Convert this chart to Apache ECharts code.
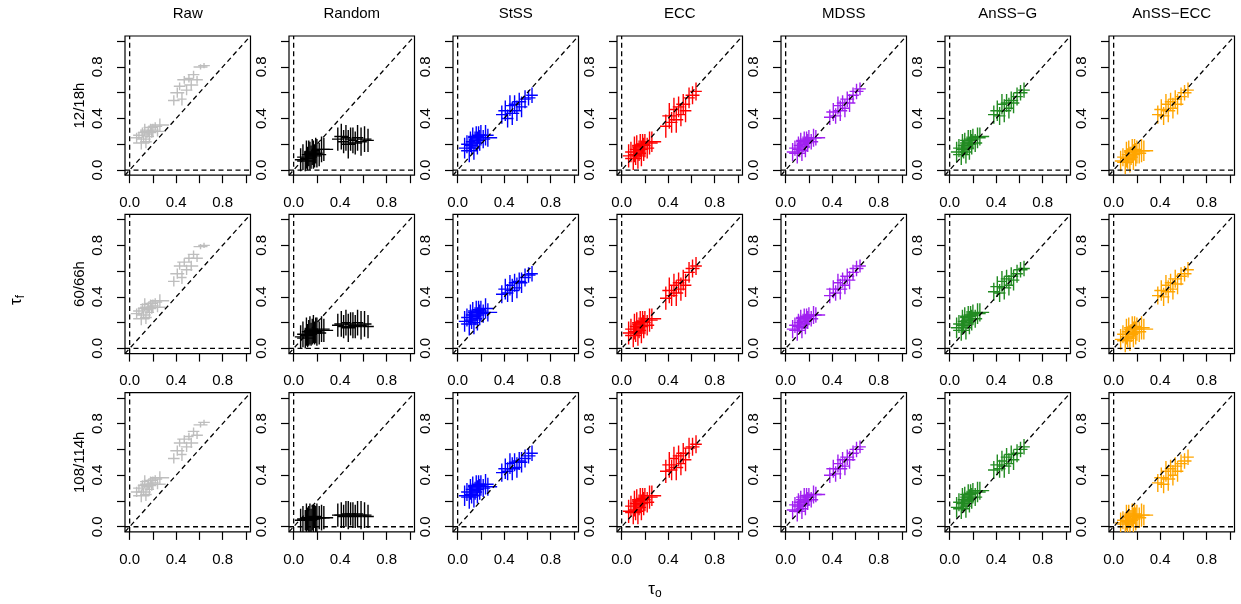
<!DOCTYPE html>
<html><head><meta charset="utf-8">
<script src="https://cdn.jsdelivr.net/npm/echarts@6/dist/echarts.min.js"></script>
<style>html,body{margin:0;padding:0;background:#fff}#c{width:1241px;height:604px}</style>
</head><body><div id="c"></div>
<script>
// ---------- data ----------
const methods = ['Raw','Random','StSS','ECC','MDSS','AnSS\u2212G','AnSS\u2212ECC'];
const leadTimes = ['12/18h','60/66h','108/114h'];
const tickValues = [0,0.2,0.4,0.6,0.8,1.0];
const labelValues = [0,0.4,0.8];

// observed tau (x centre and half-width), shared by all panels
const xc = [0.06,0.08,0.10,0.11,0.12,0.13,0.14,0.15,0.16,0.17,0.18,0.19,0.20,0.22,0.24,0.26, 0.38,0.41,0.43,0.45,0.47,0.49,0.51,0.53,0.55,0.58,0.61,0.64];
const xh = [0.05,0.05,0.07,0.04,0.06,0.04,0.05,0.05,0.07,0.04,0.06,0.04,0.05,0.06,0.07,0.08, 0.05,0.06,0.05,0.04,0.06,0.05,0.04,0.06,0.05,0.05,0.06,0.05];

// forecast tau centres per method and lead time, and half-widths per method
const rawY1 = [0.25,0.27,0.21,0.29,0.24,0.31,0.22,0.28,0.30,0.26,0.33,0.29,0.31,0.34,0.30,0.35, 0.54,0.60,0.65,0.55,0.70,0.62,0.71,0.66,0.74,0.70,0.80,0.81];
const rawY2 = [0.27,0.29,0.23,0.31,0.26,0.34,0.24,0.30,0.32,0.28,0.35,0.31,0.33,0.36,0.32,0.37, 0.52,0.58,0.64,0.55,0.67,0.61,0.70,0.64,0.73,0.70,0.79,0.80];
const rawY3 = [0.27,0.30,0.24,0.32,0.27,0.35,0.25,0.31,0.33,0.29,0.36,0.32,0.34,0.37,0.33,0.38, 0.53,0.59,0.65,0.56,0.68,0.62,0.70,0.65,0.74,0.71,0.79,0.81];
const rawH  = [0.04,0.03,0.05,0.04,0.03,0.05,0.05,0.03,0.04,0.05,0.03,0.04,0.05,0.03,0.04,0.05, 0.04,0.04,0.03,0.05,0.03,0.04,0.03,0.04,0.03,0.03,0.02,0.02];

const rndY1 = [0.08,0.10,0.07,0.12,0.09,0.13,0.11,0.10,0.14,0.12,0.11,0.15,0.13,0.12,0.16,0.16, 0.24,0.26,0.22,0.25,0.20,0.24,0.23,0.21,0.25,0.22,0.24,0.23];
const rndY2 = [0.09,0.11,0.08,0.13,0.10,0.12,0.14,0.11,0.13,0.15,0.12,0.14,0.13,0.12,0.15,0.14, 0.18,0.19,0.17,0.20,0.16,0.19,0.18,0.17,0.20,0.18,0.19,0.17];
const rndY3 = [0.05,0.06,0.05,0.07,0.06,0.06,0.07,0.05,0.07,0.06,0.08,0.06,0.07,0.07,0.07,0.07, 0.09,0.09,0.08,0.10,0.09,0.10,0.09,0.08,0.10,0.09,0.09,0.08];
const rndH  = [0.09,0.10,0.08,0.11,0.09,0.10,0.11,0.09,0.10,0.11,0.09,0.10,0.11,0.09,0.10,0.09, 0.09,0.10,0.09,0.10,0.11,0.09,0.10,0.09,0.10,0.11,0.10,0.09];

const stY1 = [0.17,0.20,0.15,0.22,0.19,0.25,0.17,0.23,0.26,0.21,0.27,0.23,0.27,0.24,0.27,0.25, 0.43,0.46,0.40,0.50,0.44,0.51,0.46,0.53,0.49,0.55,0.56,0.58];
const stY2 = [0.21,0.24,0.19,0.26,0.22,0.28,0.20,0.25,0.29,0.23,0.30,0.26,0.29,0.27,0.31,0.28, 0.42,0.46,0.43,0.49,0.45,0.51,0.47,0.52,0.51,0.55,0.57,0.58];
const stY3 = [0.24,0.27,0.23,0.29,0.25,0.31,0.24,0.28,0.32,0.27,0.33,0.29,0.32,0.30,0.33,0.31, 0.42,0.45,0.43,0.49,0.45,0.50,0.46,0.51,0.50,0.53,0.55,0.57];
const stH  = [0.08,0.07,0.09,0.08,0.07,0.08,0.09,0.07,0.08,0.09,0.07,0.08,0.08,0.07,0.08,0.07, 0.07,0.08,0.07,0.08,0.09,0.07,0.08,0.07,0.08,0.07,0.06,0.06];

const ecY1 = [0.11,0.14,0.09,0.16,0.12,0.18,0.11,0.15,0.19,0.13,0.20,0.16,0.19,0.17,0.21,0.22, 0.34,0.42,0.37,0.47,0.39,0.49,0.43,0.51,0.46,0.56,0.58,0.61];
const ecY2 = [0.12,0.15,0.10,0.17,0.13,0.19,0.12,0.16,0.20,0.14,0.21,0.17,0.20,0.18,0.22,0.23, 0.39,0.45,0.41,0.49,0.43,0.51,0.46,0.53,0.49,0.59,0.62,0.64];
const ecY3 = [0.12,0.16,0.11,0.18,0.13,0.20,0.12,0.17,0.21,0.15,0.22,0.18,0.21,0.19,0.23,0.24, 0.43,0.48,0.44,0.53,0.46,0.55,0.49,0.57,0.52,0.61,0.62,0.64];
const ecH  = [0.09,0.08,0.09,0.10,0.08,0.09,0.10,0.08,0.09,0.10,0.08,0.09,0.09,0.08,0.09,0.08, 0.09,0.10,0.08,0.09,0.10,0.08,0.09,0.08,0.09,0.08,0.07,0.07];

const mdY1 = [0.14,0.17,0.13,0.19,0.16,0.22,0.15,0.20,0.23,0.18,0.24,0.21,0.24,0.22,0.25,0.25, 0.41,0.45,0.42,0.50,0.46,0.52,0.48,0.55,0.52,0.58,0.61,0.63];
const mdY2 = [0.15,0.18,0.14,0.20,0.17,0.23,0.16,0.21,0.24,0.19,0.25,0.22,0.25,0.23,0.26,0.26, 0.41,0.46,0.43,0.51,0.46,0.53,0.49,0.56,0.53,0.59,0.62,0.64];
const mdY3 = [0.13,0.17,0.12,0.19,0.16,0.21,0.14,0.19,0.23,0.17,0.24,0.20,0.23,0.21,0.25,0.25, 0.40,0.45,0.41,0.49,0.45,0.52,0.47,0.54,0.52,0.57,0.60,0.62];
const mdH  = [0.07,0.06,0.08,0.07,0.06,0.07,0.08,0.06,0.07,0.08,0.06,0.07,0.07,0.06,0.07,0.06, 0.06,0.07,0.06,0.07,0.08,0.06,0.07,0.06,0.07,0.06,0.06,0.05];

const agY1 = [0.14,0.17,0.12,0.19,0.16,0.21,0.14,0.19,0.23,0.17,0.24,0.20,0.24,0.21,0.25,0.26, 0.43,0.46,0.42,0.51,0.46,0.52,0.48,0.54,0.52,0.57,0.60,0.62];
const agY2 = [0.16,0.19,0.14,0.21,0.18,0.24,0.16,0.22,0.25,0.20,0.26,0.22,0.26,0.23,0.27,0.28, 0.44,0.48,0.43,0.52,0.47,0.54,0.49,0.56,0.53,0.58,0.61,0.62];
const agY3 = [0.15,0.19,0.14,0.21,0.18,0.23,0.16,0.21,0.25,0.20,0.26,0.22,0.26,0.23,0.27,0.28, 0.44,0.48,0.45,0.51,0.47,0.54,0.49,0.56,0.52,0.57,0.60,0.62];
const agH  = [0.08,0.07,0.08,0.09,0.07,0.08,0.09,0.07,0.08,0.09,0.07,0.08,0.08,0.07,0.08,0.07, 0.07,0.08,0.07,0.08,0.09,0.07,0.08,0.07,0.08,0.07,0.06,0.06];

const aeY1 = [0.07,0.10,0.06,0.12,0.09,0.14,0.08,0.11,0.15,0.10,0.16,0.12,0.14,0.13,0.15,0.15, 0.43,0.47,0.42,0.51,0.46,0.53,0.48,0.55,0.51,0.57,0.60,0.62];
const aeY2 = [0.07,0.11,0.06,0.13,0.09,0.15,0.08,0.12,0.16,0.11,0.17,0.12,0.15,0.13,0.16,0.15, 0.41,0.45,0.40,0.49,0.44,0.51,0.46,0.54,0.50,0.56,0.58,0.61];
const aeY3 = [0.03,0.05,0.02,0.07,0.04,0.08,0.03,0.06,0.09,0.05,0.10,0.06,0.08,0.07,0.09,0.09, 0.34,0.38,0.33,0.43,0.37,0.45,0.40,0.47,0.43,0.49,0.51,0.54];
const aeH  = [0.08,0.07,0.09,0.10,0.08,0.09,0.10,0.07,0.09,0.10,0.08,0.09,0.09,0.08,0.09,0.08, 0.07,0.08,0.07,0.08,0.09,0.07,0.08,0.07,0.08,0.07,0.06,0.06];

// ---------- assembly ----------
const colors = ['#BEBEBE','#000000','#0000FF','#FF0000','#A020F0','#228B22','#FFA500'];
const yCentres = [[rawY1,rawY2,rawY3],[rndY1,rndY2,rndY3],[stY1,stY2,stY3],[ecY1,ecY2,ecY3],[mdY1,mdY2,mdY3],[agY1,agY2,agY3],[aeY1,aeY2,aeY3]];
const yHalf = [rawH,rndH,stH,ecH,mdH,agH,aeH];

const colLeft = [125,289,453,617,781,945,1109];
const rowTop = [36,214.4,392.7];
const W = 125.5, H = 139.2;
const FONT = 'Liberation Sans, Arial, Helvetica, sans-serif';
const AMIN = -0.04, AMAX = 1.04;

const grids=[], xAxes=[], yAxes=[], series=[], graphics=[];
for (let r=0;r<3;r++){
  for (let c=0;c<7;c++){
    const gi = grids.length;
    grids.push({left:colLeft[c], top:rowTop[r], width:W, height:H, show:true, borderColor:'#000', borderWidth:1.2, backgroundColor:'transparent', containLabel:false});
    const axisCommon = {
      min:AMIN, max:AMAX, gridIndex:gi, type:'value',
      axisLine:{show:false, onZero:false},
      splitLine:{show:false},
      axisTick:{show:true, inside:false, length:8, customValues:tickValues, lineStyle:{color:'#000', width:1.2}},
    };
    xAxes.push(Object.assign({}, axisCommon, {
      axisLabel:{show:true, customValues:labelValues, margin:20, color:'#000', fontSize:15, fontFamily:FONT, formatter:v=>v.toFixed(1)}
    }));
    yAxes.push(Object.assign({}, axisCommon, {
      axisLabel:{show:true, customValues:labelValues, rotate:90, margin:20, color:'#000', fontSize:15, fontFamily:FONT, formatter:v=>v.toFixed(1)}
    }));
    const yc = yCentres[c][r], yh = yHalf[c];
    const data = xc.map((x,i)=>[x, x-xh[i], x+xh[i], yc[i], yc[i]-yh[i], yc[i]+yh[i]]);
    const col = colors[c];
    series.push({
      type:'custom', xAxisIndex:gi, yAxisIndex:gi, clip:true, silent:true, z:2,
      data:data,
      renderItem:function(params, api){
        const a=api.coord([api.value(1),api.value(3)]), b=api.coord([api.value(2),api.value(3)]);
        const d=api.coord([api.value(0),api.value(4)]), e=api.coord([api.value(0),api.value(5)]);
        return {type:'group', children:[
          {type:'line', shape:{x1:a[0],y1:a[1],x2:b[0],y2:b[1]}, style:{stroke:col, lineWidth:1.4}},
          {type:'line', shape:{x1:d[0],y1:d[1],x2:e[0],y2:e[1]}, style:{stroke:col, lineWidth:1.4}}
        ]};
      }
    });
    const dash = {color:'#000', width:1.3, type:[5,3.5]};
    [[[AMIN,AMIN],[AMAX,AMAX]],[[0,AMIN],[0,AMAX]],[[AMIN,0],[AMAX,0]]].forEach(seg=>{
      series.push({type:'line', xAxisIndex:gi, yAxisIndex:gi, data:seg, symbol:'none', silent:true, z:3, lineStyle:dash, animation:false});
    });
  }
}
// column titles
methods.forEach((m,c)=>{
  graphics.push({type:'text', x:colLeft[c]+W/2, y:14, style:{text:m, fill:'#000', font:'15px '+FONT, textAlign:'center', textVerticalAlign:'middle'}});
});
// row labels
leadTimes.forEach((t,r)=>{
  graphics.push({type:'text', x:80, y:rowTop[r]+H/2, rotation:Math.PI/2, style:{text:t, fill:'#000', font:'15px '+FONT, textAlign:'center', textVerticalAlign:'middle'}});
});
// axis titles
const richT = {t:{fontSize:17, fontFamily:FONT, fill:'#000'}, s:{fontSize:12, fontFamily:FONT, fill:'#000', padding:[9,0,0,0]}};
graphics.push({type:'text', x:16, y:300, rotation:Math.PI/2, style:{rich:richT, text:'{t|\u03c4}{s|f}', textAlign:'center', textVerticalAlign:'middle'}});
graphics.push({type:'text', x:655, y:589, style:{rich:richT, text:'{t|\u03c4}{s|o}', textAlign:'center', textVerticalAlign:'middle'}});

const chart = echarts.init(document.getElementById('c'), null, {renderer:'canvas'});
chart.setOption({animation:false, grid:grids, xAxis:xAxes, yAxis:yAxes, series:series, graphic:graphics});
</script></body></html>
